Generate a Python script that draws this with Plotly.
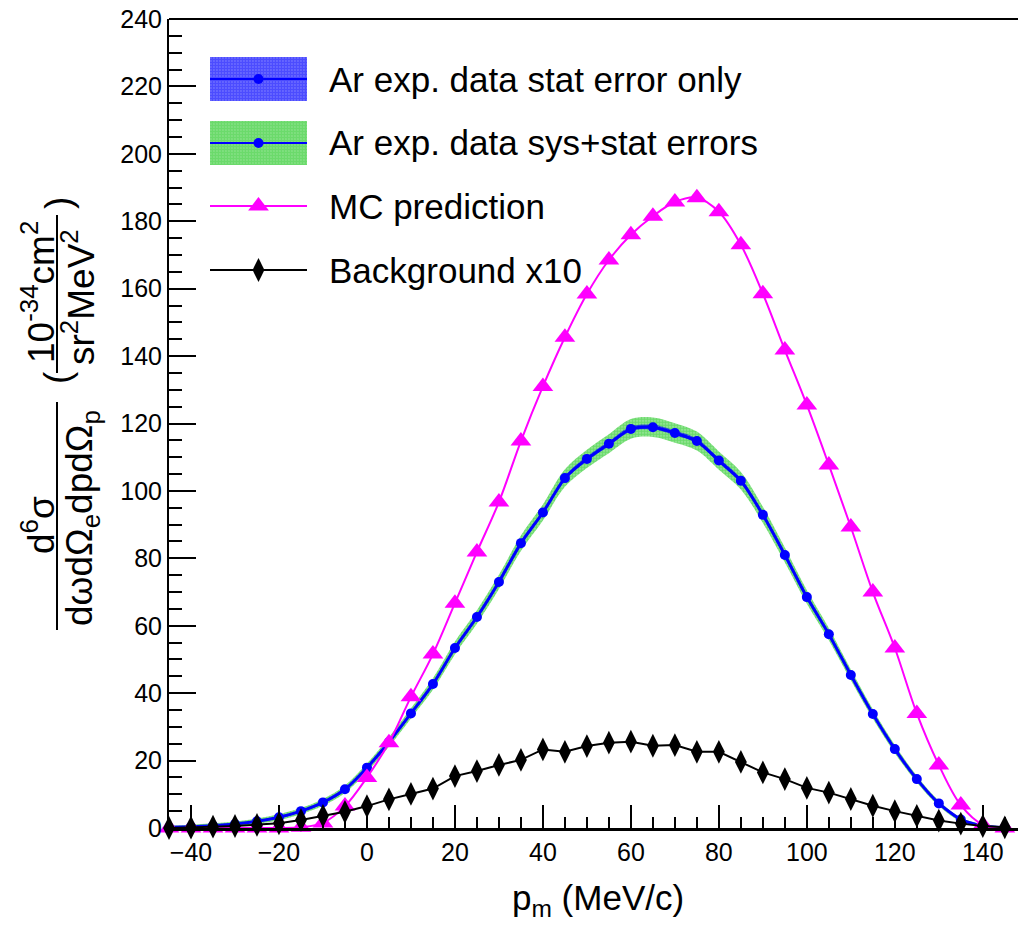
import plotly.graph_objects as go

# Missing momentum bin centres (MeV/c)
pm = [-45, -40, -35, -30, -25, -20, -15, -10, -5, 0, 5, 10, 15, 20, 25, 30, 35, 40, 45,
      50, 55, 60, 65, 70, 75, 80, 85, 90, 95, 100, 105, 110, 115, 120, 125, 130, 135,
      140, 145]

# Ar measured cross section
ar_data = [0.2, 0.4, 0.7, 1.2, 2.0, 3.2, 5.0, 7.6, 11.5, 17.9, 25.5, 34.0, 42.7, 53.4,
           62.6, 73.0, 84.5, 93.6, 103.8, 109.5, 114.0, 118.4, 118.9, 117.2, 114.8,
           109.0, 103.0, 92.9, 81.0, 68.5, 57.5, 45.4, 33.8, 23.4, 14.5, 7.3, 2.5, 0.6,
           0.1]
# statistical uncertainty
ar_stat = [0.1, 0.1, 0.15, 0.2, 0.2, 0.25, 0.3, 0.3, 0.35, 0.4, 0.45, 0.5, 0.5, 0.55,
           0.6, 0.6, 0.65, 0.65, 0.7, 0.7, 0.7, 0.7, 0.7, 0.7, 0.7, 0.7, 0.7, 0.65,
           0.65, 0.6, 0.55, 0.5, 0.45, 0.4, 0.35, 0.3, 0.2, 0.15, 0.1]
# systematic + statistical uncertainty
ar_total = [0.5, 0.6, 0.7, 0.7, 0.8, 0.9, 0.9, 1.0, 1.1, 1.2, 1.4, 1.5, 1.7, 1.9, 2.0,
            2.1, 2.3, 2.4, 2.6, 2.7, 2.8, 2.9, 2.9, 2.9, 2.8, 2.7, 2.6, 2.4, 2.2, 2.0,
            1.8, 1.6, 1.4, 1.2, 1.0, 0.8, 0.6, 0.5, 0.4]

# Monte Carlo prediction
mc_pred = [0, 0, 0, 0, 0, 0, 0.2, 1.5, 6.5, 15.0, 25.3, 38.9, 51.6, 66.7, 81.9, 96.7,
           114.8, 131.0, 145.6, 158.4, 168.5, 176.0, 181.5, 185.7, 187.0, 182.8, 173.0,
           158.5, 141.8, 125.5, 107.7, 89.3, 70.0, 53.4, 34.0, 18.7, 6.8, 1.0, 0]

# Background (scaled by 10)
bkg_x10 = [0, 0.1, 0.4, 0.6, 0.9, 1.4, 2.4, 3.6, 4.8, 6.5, 8.5, 10.1, 11.7, 15.4, 16.9,
           18.7, 20.2, 23.3, 22.6, 24.3, 25.3, 25.6, 24.4, 24.6, 22.6, 22.6, 19.6, 16.5,
           14.5, 11.9, 10.5, 8.6, 6.6, 5.0, 3.6, 2.2, 1.3, 0.6, 0.2]

legend_labels = ["Ar exp. data stat error only", "Ar exp. data sys+stat errors",
                 "MC prediction", "Background x10"]

W, H = 1018, 937
L, T, B = 169, 19, 828          # frame edges in pixels
FONT = "Liberation Sans, Arial, Helvetica, sans-serif"

BLUE = "#0000ff"
GREEN = "#33cc33"
MAGENTA = "#ff00ff"
BLUE_TINT = "rgba(0,0,255,0.40)"
GREEN_TINT = "rgba(51,204,51,0.45)"


def pxx(x):
    return (x - L) / (W - L)


def pxy(y):
    return (B - y) / (B - T)


def dots(fg, bg, solidity):
    return dict(shape=".", fgcolor=fg, bgcolor=bg, size=3, solidity=solidity)


fig = go.Figure()


def band(err, fg, tint):
    lo = [v - e for v, e in zip(ar_data, err)]
    hi = [v + e for v, e in zip(ar_data, err)]
    fig.add_trace(go.Scatter(x=pm, y=lo, mode="lines", line=dict(width=0, shape="spline"),
                             hoverinfo="skip", showlegend=False, cliponaxis=False))
    fig.add_trace(go.Scatter(x=pm, y=hi, mode="lines", fill="tonexty",
                             line=dict(width=0, shape="spline"),
                             fillcolor=tint, fillpattern=dots(fg, tint, 0.7),
                             hoverinfo="skip", showlegend=False, cliponaxis=False))


band(ar_total, GREEN, GREEN_TINT)
band(ar_stat, BLUE, BLUE_TINT)

fig.add_trace(go.Scatter(x=pm, y=ar_data, mode="lines+markers",
                         line=dict(color=BLUE, width=3, shape="spline", smoothing=0.6),
                         marker=dict(color=BLUE, size=10, symbol="circle"),
                         showlegend=False, cliponaxis=False))
fig.add_trace(go.Scatter(x=pm, y=mc_pred, mode="lines+markers",
                         line=dict(color=MAGENTA, width=2, shape="spline"),
                         marker=dict(color=MAGENTA, size=18, symbol="triangle-up"),
                         showlegend=False, cliponaxis=False))
fig.add_trace(go.Scatter(x=pm, y=bkg_x10, mode="lines+markers",
                         line=dict(color="black", width=2),
                         marker=dict(color="black", size=17, symbol="diamond-tall"),
                         showlegend=False, cliponaxis=False))

# ---- legend drawn on a pixel-scaled overlay axis ----
box_x0, box_x1, mid_x = 210, 307, 258.5
rows = [79, 143, 206, 270]


def swatch_box(yc, fg, tint):
    fig.add_trace(go.Scatter(x=[box_x0, box_x1, box_x1, box_x0, box_x0],
                             y=[yc - 22, yc - 22, yc + 22, yc + 22, yc - 22],
                             xaxis="x2", yaxis="y2", mode="lines", fill="toself",
                             line=dict(width=0), fillcolor=tint,
                             fillpattern=dots(fg, tint, 0.8),
                             hoverinfo="skip", showlegend=False))


def swatch_line(yc, color, width, symbol, size):
    fig.add_trace(go.Scatter(x=[box_x0, box_x1], y=[yc, yc], xaxis="x2", yaxis="y2",
                             mode="lines", line=dict(color=color, width=width),
                             hoverinfo="skip", showlegend=False))
    fig.add_trace(go.Scatter(x=[mid_x], y=[yc], xaxis="x2", yaxis="y2", mode="markers",
                             marker=dict(color=color, size=size, symbol=symbol),
                             hoverinfo="skip", showlegend=False))


swatch_box(rows[0], BLUE, BLUE_TINT)
swatch_line(rows[0], BLUE, 2, "circle", 10)
swatch_box(rows[1], GREEN, GREEN_TINT)
swatch_line(rows[1], BLUE, 2, "circle", 10)
swatch_line(rows[2], MAGENTA, 2, "triangle-up", 18)
swatch_line(rows[3], "black", 2, "diamond-tall", 17)

annotations = []
for label, yc in zip(legend_labels, rows):
    annotations.append(dict(x=pxx(327), y=pxy(yc), xref="paper", yref="paper",
                            text=label, showarrow=False, xanchor="left", yanchor="middle",
                            font=dict(family=FONT, size=35, color="black")))

# x-axis title
annotations.append(dict(x=pxx(598), y=pxy(900), xref="paper", yref="paper",
                        text="p<sub>m</sub> (MeV/c)", showarrow=False,
                        xanchor="center", yanchor="middle",
                        font=dict(family=FONT, size=35, color="black")))

# y-axis title: two stacked fractions, rotated
ytitle_parts = [
    ("d<sup>6</sup>σ", 38, 525),
    ("dωdΩ<sub>e</sub>dpdΩ<sub>p</sub>", 82, 518),
    ("(", 57, 378),
    ("10<sup>-34</sup>cm<sup>2</sup>", 38, 292),
    ("sr<sup>2</sup>MeV<sup>2</sup>", 78, 297),
    (")", 59, 203),
]
for txt, xp, yp in ytitle_parts:
    annotations.append(dict(x=pxx(xp), y=pxy(yp), xref="paper", yref="paper", text=txt,
                            showarrow=False, textangle=-90, xanchor="center",
                            yanchor="middle",
                            font=dict(family=FONT, size=37, color="black")))

shapes = [
    # fraction bars
    dict(type="line", xref="paper", yref="paper", x0=pxx(57), x1=pxx(57),
         y0=pxy(402), y1=pxy(630), line=dict(color="black", width=2)),
    dict(type="line", xref="paper", yref="paper", x0=pxx(57), x1=pxx(57),
         y0=pxy(215), y1=pxy(373), line=dict(color="black", width=2)),
    # top frame
    dict(type="line", xref="paper", yref="paper", x0=0, x1=1, y0=1, y1=1,
         line=dict(color="black", width=2)),
]

fig.update_layout(
    width=W, height=H,
    margin=dict(l=L, r=0, t=T, b=H - B, pad=0),
    paper_bgcolor="white", plot_bgcolor="white",
    showlegend=False,
    font=dict(family=FONT, color="black"),
    xaxis=dict(range=[-45, 148], showgrid=False, zeroline=False,
               showline=True, linecolor="black", linewidth=3,
               ticks="inside", ticklen=23, tickwidth=1.5, tickcolor="black",
               dtick=20, tick0=0, tickfont=dict(family=FONT, size=25),
               minor=dict(ticks="inside", ticklen=11, dtick=5, tick0=0,
                          tickwidth=1.5, tickcolor="black", showgrid=False)),
    yaxis=dict(range=[0, 240], showgrid=False, zeroline=False,
               showline=True, linecolor="black", linewidth=2,
               ticks="inside", ticklen=27, tickwidth=1.5, tickcolor="black",
               dtick=20, tick0=0, tickfont=dict(family=FONT, size=25),
               minor=dict(ticks="inside", ticklen=13, dtick=5, tick0=0,
                          tickwidth=1.5, tickcolor="black", showgrid=False)),
    xaxis2=dict(range=[L, W], overlaying="x", anchor="y2", visible=False,
                fixedrange=True),
    yaxis2=dict(range=[B, T], overlaying="y", anchor="x2", visible=False,
                fixedrange=True),
    annotations=annotations,
    shapes=shapes,
)

fig.write_html("out.html")
